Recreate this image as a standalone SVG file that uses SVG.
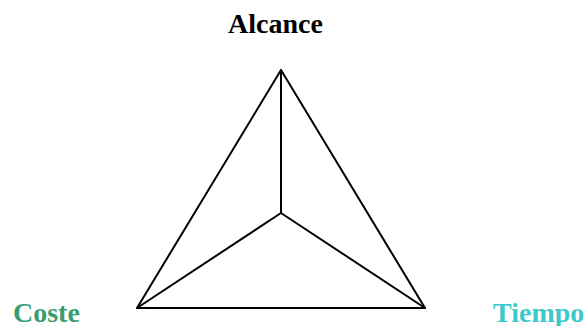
<svg xmlns="http://www.w3.org/2000/svg" width="587" height="326" viewBox="0 0 587 326">
<style>
.lbl{font-family:"Liberation Serif","Times New Roman",serif;font-weight:bold;font-size:28px}
.edge{stroke:#000;stroke-width:2;fill:none;stroke-linecap:round;stroke-linejoin:round}
</style>
<rect width="587" height="326" fill="#fff"/>
<g id="connectors">
<polygon class="edge" points="281,70 137,308 425,308"/>
<line class="edge" x1="281" y1="70" x2="281" y2="213"/>
<line class="edge" x1="137" y1="308" x2="281" y2="213"/>
<line class="edge" x1="425" y1="308" x2="281" y2="213"/>
</g>
<g id="alcance"><text class="lbl" x="228" y="33" fill="#000">Alcance</text></g>
<g id="coste"><text class="lbl" x="13" y="322" fill="#3a9d6c">Coste</text></g>
<g id="tiempo"><text class="lbl" x="493" y="322" fill="#3ec9c9">Tiempo</text></g>
</svg>
